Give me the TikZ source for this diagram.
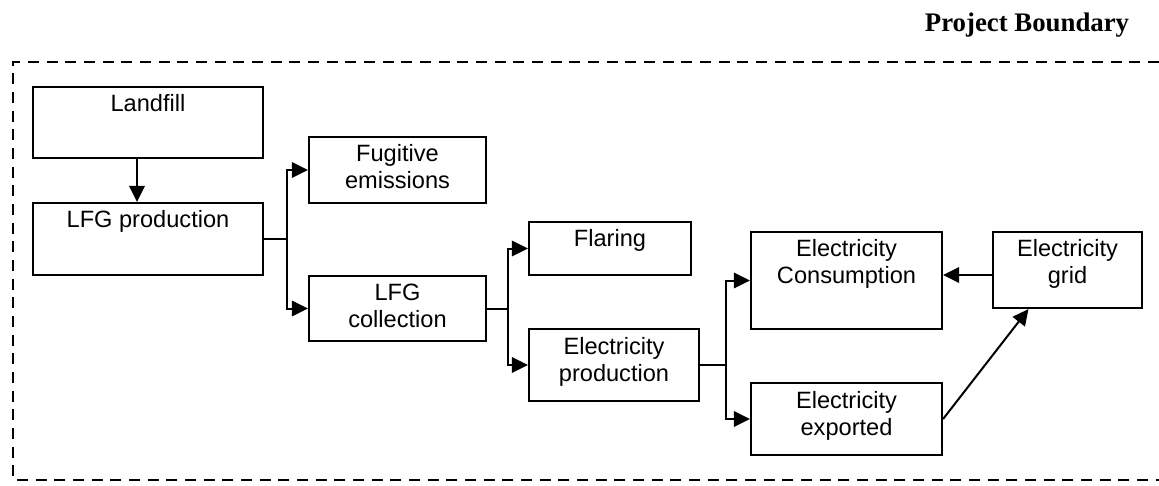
\documentclass[tikz,border=0pt]{standalone}
\usepackage{fontspec}
\setmainfont{Liberation Sans}
\newfontfamily\titlefont{Liberation Serif}
\usetikzlibrary{arrows.meta}
\tikzset{
  box/.style={draw, line width=1.6pt, rectangle, inner sep=0pt},
  lbl/.style={anchor=base, align=center, inner sep=0pt, font=\fontsize{17.7pt}{20.25pt}\selectfont},
  arr/.style={line width=1.5pt, -{Triangle[length=12pt,width=11.5pt]}},
  conn/.style={line width=1.5pt},
  boundary/.style={line width=2.1pt, dash pattern=on 8.2pt off 5.8pt}
}
\begin{document}
\begin{tikzpicture}[x=0.75pt, y=-0.75pt]
\useasboundingbox (0,0) rectangle (1159,485);
% boundary
\coordinate (bTR) at (1159,62);
\coordinate (bTL) at (13,62);
\coordinate (bBL) at (13,480);
\coordinate (bBR) at (1159,480);
\draw[boundary] (bTR) -- (bTL) -- (bBL) -- (bBR);
\node[anchor=base, inner sep=0pt, font=\titlefont\bfseries\fontsize{20.1pt}{24pt}\selectfont] (title) at (1027,32) {Project Boundary};
% boxes
\node[box, minimum width=172.5pt, minimum height=53.25pt] (landfill) at (148,122.5) {};
\node[box, minimum width=172.5pt, minimum height=54pt] (lfgprod) at (148,239) {};
\node[box, minimum width=132.75pt, minimum height=49.5pt] (fugitive) at (397.5,170) {};
\node[box, minimum width=132.75pt, minimum height=48.75pt] (lfgcoll) at (397.5,308.5) {};
\node[box, minimum width=121.5pt, minimum height=39.75pt] (flaring) at (610,248.5) {};
\node[box, minimum width=127.5pt, minimum height=54pt] (elecprod) at (614,365) {};
\node[box, minimum width=143.25pt, minimum height=72.75pt] (consumption) at (846.5,280.5) {};
\node[box, minimum width=143.25pt, minimum height=54pt] (exported) at (846.5,419) {};
\node[box, minimum width=111.75pt, minimum height=57pt] (grid) at (1067.5,270) {};
% labels (base = last line)
\node[lbl] (landfill-t) at ([yshift=-19pt]landfill.north) {Landfill};
\node[lbl] (lfgprod-t) at ([yshift=-19pt]lfgprod.north) {LFG production};
\node[lbl] (fugitive-t) at ([yshift=-39.75pt]fugitive.north) {Fugitive\\emissions};
\node[lbl] (lfgcoll-t) at ([yshift=-39.25pt]lfgcoll.north) {LFG\\collection};
\node[lbl] (flaring-t) at ([yshift=-19.5pt]flaring.north) {Flaring};
\node[lbl] (elecprod-t) at ([yshift=-40.25pt]elecprod.north) {Electricity\\production};
\node[lbl] (consumption-t) at ([yshift=-39.75pt]consumption.north) {Electricity\\Consumption};
\node[lbl] (exported-t) at ([yshift=-40.25pt]exported.north) {Electricity\\exported};
\node[lbl] (grid-t) at ([yshift=-39.75pt]grid.north) {Electricity\\grid};
% connectors
\draw[arr] ([xshift=-8.25pt]landfill.south) -- ([xshift=-8.25pt]lfgprod.north);
\draw[conn] (lfgprod.east) -- ++(23,0) coordinate (j1);
\draw[arr] (j1) |- (fugitive.west);
\draw[arr] (j1) |- (lfgcoll.west);
\draw[conn] (lfgcoll.east) -- ++(21,0) coordinate (j2);
\draw[arr] (j2) |- (flaring.west);
\draw[arr] (j2) |- (elecprod.west);
\draw[conn] (elecprod.east) -- ++(26,0) coordinate (j3);
\draw[arr] (j3) |- (consumption.west);
\draw[arr] (j3) |- (exported.west);
\draw[arr] ([yshift=-3.75pt]grid.west) -- ([yshift=-3.75pt]grid.west -| consumption.east);
\draw[arr] (exported.east) -- ([xshift=-29.25pt]grid.south);
\end{tikzpicture}
\end{document}
